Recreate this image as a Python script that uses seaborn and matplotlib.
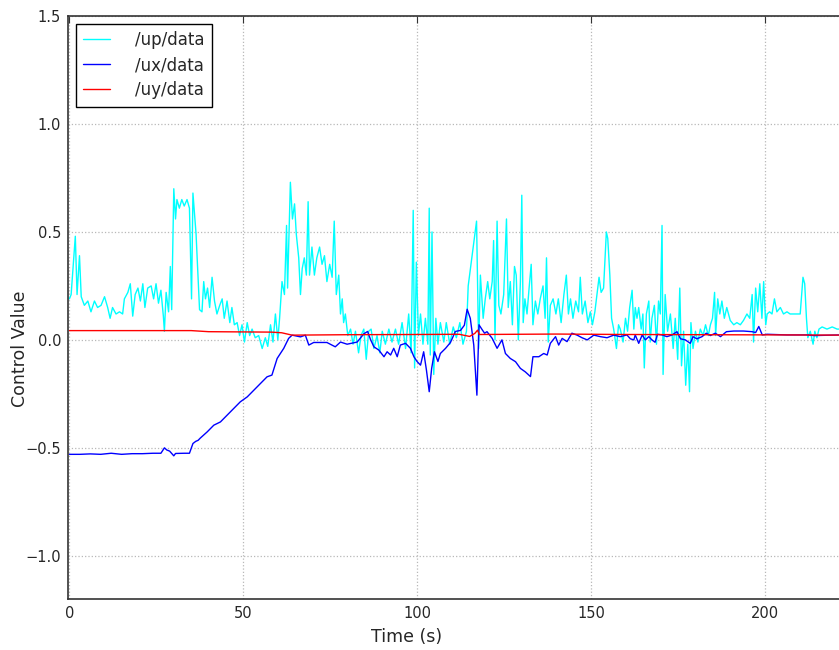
import numpy as np
import pandas as pd
import seaborn as sns
import matplotlib
matplotlib.use("Agg")
import matplotlib.pyplot as plt

# values (time in s, control value)
up_t = [0.0, 0.5, 1.7, 2.2, 2.9, 3.4, 4.3, 5.3, 6.2, 7.2, 8.1, 9.1, 10.1, 11.0, 11.7,
        12.4, 13.4, 14.4, 15.3, 15.8, 16.8, 17.5, 18.2, 18.9, 19.7, 20.4, 21.1, 21.7,
        22.5, 23.5, 24.2, 24.9, 25.6, 26.3, 27.0, 27.3, 27.8, 28.5, 29.0, 29.4, 30.0,
        30.5, 30.9, 31.6, 32.3, 33.0, 33.8, 34.5, 35.1, 35.5, 36.4, 37.4,
        38.1, 38.6, 39.1, 39.7, 40.3, 41.0, 41.7, 42.4, 43.2, 43.9, 44.5, 45.3, 46.1,
        46.7, 47.4, 48.2, 48.9, 49.6, 50.3, 51.1, 51.8, 52.5, 53.4, 54.4, 55.4, 56.3,
        57.0, 57.8, 58.5, 59.2, 59.9, 60.4, 61.1, 61.8, 62.4, 62.7, 63.5, 64.1, 64.7,
        65.2, 65.9, 66.4, 66.9, 67.5, 68.1, 68.6, 69.0, 69.7, 70.4, 71.1, 71.9, 72.6,
        73.3, 74.0, 74.8, 75.5, 76.1, 76.7, 77.4, 77.9,
        78.4, 78.8, 79.3, 80.0, 80.8, 81.5, 82.2, 83.1, 83.8, 84.6, 85.3, 86.0, 86.7,
        87.5, 88.4, 89.2, 89.9, 90.8, 91.8, 92.7, 93.7, 94.6, 95.6, 96.6, 97.5, 98.2,
        98.8, 99.2, 99.7, 100.3, 100.9, 101.6, 102.3, 103.0, 103.4, 103.7, 104.2, 104.7,
        105.3, 105.9, 106.6, 107.6, 108.3, 109.3, 110.3, 111.2, 112.2, 113.1, 114.1,
        114.6, 117.0, 117.6,
        118.1, 118.9, 119.5, 120.2, 120.8, 121.5, 121.9, 122.3, 122.9, 123.4, 124.0,
        124.8, 125.6, 126.1, 126.7, 127.3, 127.9, 128.4, 129.0, 129.6, 130.0, 130.4,
        130.9, 131.5, 132.1, 132.7, 133.2, 133.9, 134.6, 135.3, 136.1, 136.7, 137.1,
        137.6, 138.2, 139.0, 139.8, 140.5, 141.3, 142.1, 142.8, 143.4, 144.0, 144.7,
        145.5, 146.3, 146.8, 147.4, 148.2, 149.0, 149.7, 150.3, 151.0, 151.6, 152.2,
        152.8, 153.5, 154.3, 154.7, 155.3, 155.8, 156.4, 157.2, 157.8,
        158.3, 159.1, 159.8, 160.4, 161.0, 161.7, 162.2, 162.6, 163.1, 163.6, 164.3,
        164.8, 165.2, 165.8, 166.5, 166.9, 167.4, 168.1, 168.7, 169.3, 169.8, 170.3,
        170.6, 171.2, 171.9, 172.7, 173.5, 174.1, 174.8, 175.4, 175.9, 176.5, 177.1,
        177.7, 178.2, 178.6, 179.2, 179.9, 180.6, 181.3, 182.1, 182.8, 183.6, 184.2,
        184.8, 185.4, 185.7, 186.3, 186.9, 187.5, 188.2, 188.9, 189.9, 190.9, 191.8,
        192.8, 193.7, 194.7, 195.5, 196.2, 196.6, 197.2, 197.8, 198.4, 199.0, 199.5,
        200.1, 200.5, 201.2, 201.9, 202.6, 203.3, 204.3, 205.2, 206.2, 207.1, 208.1,
        209.0, 210.0, 210.8, 211.3, 211.8, 212.2, 212.9, 213.7, 214.2, 214.8, 215.4,
        216.3, 217.7, 219.2, 220.6, 223.0, 226.0]
up_v = [0.19, 0.21, 0.48, 0.21, 0.39, 0.20, 0.16, 0.18, 0.13, 0.18, 0.15, 0.16, 0.20, 0.15, 0.10,
        0.15, 0.12, 0.13, 0.12, 0.19, 0.22, 0.26, 0.11, 0.21, 0.24, 0.18, 0.26, 0.15,
        0.24, 0.25, 0.19, 0.26, 0.17, 0.23, 0.11, 0.04, 0.22, 0.13, 0.34, 0.14, 0.70,
        0.56, 0.65, 0.61, 0.65, 0.62, 0.65, 0.61, 0.19, 0.68, 0.49, 0.14,
        0.13, 0.27, 0.19, 0.24, 0.15, 0.29, 0.18, 0.12, 0.16, 0.19, 0.10, 0.18, 0.08,
        0.15, 0.07, 0.08, 0.02, 0.07, -0.01, 0.08, 0.02, 0.05, 0.01, 0.02, -0.04, 0.01,
        -0.03, 0.07, -0.01, 0.12, 0.00, 0.10, 0.27, 0.21, 0.53, 0.24, 0.73, 0.56, 0.63,
        0.49, 0.38, 0.21, 0.33, 0.38, 0.30, 0.64, 0.30, 0.43, 0.30, 0.38, 0.43, 0.35,
        0.39, 0.27, 0.35, 0.29, 0.55, 0.21, 0.30, 0.12,
        0.19, 0.08, 0.12, 0.02, 0.05, -0.02, 0.04, -0.06, 0.02, 0.05, -0.09, 0.04, 0.05,
        -0.04, 0.02, -0.06, 0.04, -0.02, 0.05, -0.01, 0.05, -0.02, 0.08, -0.04, 0.12, -0.06,
        0.60, -0.13, 0.36, 0.02, 0.12, -0.02, 0.10, -0.02, 0.61, -0.07, 0.50, -0.16,
        0.10, -0.02, 0.08, -0.01, 0.08, -0.02, 0.06, 0.01, 0.08, -0.02, 0.04,
        0.25, 0.55, -0.04,
        0.30, 0.10, 0.19, 0.27, 0.19, 0.27, 0.46, 0.00, 0.55, 0.16, 0.12,
        0.21, 0.56, 0.15, 0.27, 0.07, 0.34, 0.30, 0.00, 0.27, 0.67, 0.08,
        0.19, 0.12, 0.24, 0.35, 0.07, 0.18, 0.12, 0.19, 0.25, 0.10, 0.38,
        -0.01, 0.16, 0.19, 0.12, 0.19, 0.08, 0.21, 0.30, 0.12, 0.19, 0.10,
        0.18, 0.13, 0.29, 0.12, 0.18, 0.08, 0.13, 0.07, 0.13, 0.21, 0.29,
        0.22, 0.24, 0.50, 0.47, 0.30, 0.10, 0.05, -0.04, 0.07,
        0.05, -0.01, 0.10, 0.04, 0.15, 0.23, 0.05, 0.15, 0.10, 0.15, 0.05,
        0.12, -0.13, 0.12, 0.18, -0.01, 0.10, 0.16, -0.02, 0.18, 0.12, 0.53,
        -0.16, 0.21, 0.04, 0.12, -0.04, 0.10, -0.09, 0.24, -0.12, 0.04, -0.21,
        -0.02, -0.24, 0.08, -0.04, 0.04, -0.01, 0.05, 0.02, 0.07, 0.02, 0.07,
        0.10, 0.22, 0.02, 0.19, 0.12, 0.18, 0.10, 0.15, 0.09, 0.07, 0.08,
        0.07, 0.09, 0.12, 0.10, 0.21, -0.01, 0.24, 0.13, 0.26, 0.10, 0.27,
        0.07, 0.12, 0.13, 0.12, 0.19, 0.13, 0.15, 0.12, 0.13, 0.12, 0.12,
        0.12, 0.12, 0.29, 0.26, 0.10, 0.01, 0.04, -0.02, 0.04, 0.01, 0.05,
        0.06, 0.05, 0.06, 0.05, 0.05, 0.05]

ux_t = [0.0, 3.0, 6.0, 9.0, 12.0, 15.0, 18.0, 21.0, 24.0, 26.3, 27.3, 28.0, 28.8, 29.6,
        30.0, 30.5, 33.0, 34.5, 35.5, 36.3, 37.0, 37.6, 39.6, 41.5, 43.4, 45.3, 47.2,
        49.1, 51.1, 53.0, 54.9, 56.8, 58.2, 59.7, 61.6, 63.0, 64.0, 66.4, 67.8, 68.8,
        70.2, 74.0, 76.4, 77.9, 79.8, 82.7, 84.6, 85.7, 86.5, 87.5, 88.9, 90.4, 91.3,
        92.3, 93.2, 94.2, 95.1, 96.6, 98.0, 99.0, 99.9, 100.9, 101.8, 102.6, 103.4,
        104.1, 104.9, 105.9, 106.6, 108.1, 109.5, 110.9, 112.4, 113.5, 114.3, 115.2,
        116.2, 117.1, 117.7, 118.5, 119.3, 120.0, 121.5, 122.9, 124.3, 125.3, 126.7,
        128.2, 129.6, 131.0, 132.5, 133.2, 134.9, 136.3, 137.3, 138.2, 139.7, 140.6,
        141.6, 143.0, 144.4, 145.9, 147.3, 148.8, 150.7, 152.6, 154.5, 156.4, 158.3,
        160.2, 161.2, 162.2, 162.6, 163.6, 164.6, 165.5, 166.5, 167.4, 168.3, 169.0,
        170.3, 171.7, 173.2, 174.6, 175.6, 177.0, 178.4, 179.2, 180.3, 181.8, 183.0,
        184.2, 185.6, 187.1, 188.8, 190.9, 193.7, 196.2, 197.2, 198.1, 199.1, 200.5,
        206.2, 211.9, 214.0, 221.2, 226.0]
ux_v = [-0.53, -0.53, -0.528, -0.53, -0.525, -0.53, -0.527, -0.527, -0.525, -0.525,
        -0.50, -0.51, -0.515, -0.53, -0.537, -0.526, -0.525, -0.525, -0.48, -0.47, -0.465,
        -0.455, -0.426, -0.395, -0.38, -0.349, -0.318, -0.287, -0.264, -0.233, -0.202,
        -0.171, -0.163, -0.086, -0.039, 0.007, 0.022, 0.014, 0.022, -0.024, -0.012,
        -0.012, -0.032, -0.01, -0.02, -0.01, 0.028, 0.039, 0.003, -0.032, -0.047, -0.078,
        -0.055, -0.07, -0.039, -0.078, -0.024, -0.016, -0.039, -0.078, -0.10, -0.117,
        -0.055, -0.14, -0.24, -0.132, -0.055, -0.10, -0.063, -0.039, -0.012, 0.039,
        0.044, 0.068, 0.142, 0.10, -0.024, -0.256, 0.07, 0.05, 0.031, 0.038, 0.007,
        -0.039, 0.0, -0.063, -0.086, -0.101, -0.132, -0.148, -0.17, -0.078, -0.078,
        -0.063, -0.07, -0.016, 0.015, -0.024, 0.007, -0.008, 0.031, 0.022, 0.01, 0.0,
        0.022, 0.015, 0.01, 0.022, 0.015, 0.023, 0.005, 0.0, 0.023, -0.016, 0.023, 0.0,
        0.015, 0.0, -0.011, 0.026, 0.023, 0.015, 0.023, 0.038, 0.005, 0.0, -0.016,
        0.015, 0.005, 0.015, 0.031, 0.02, 0.031, 0.015, 0.038, 0.041, 0.041, 0.038,
        0.034, 0.062, 0.023, 0.026, 0.023, 0.023, 0.02, 0.023, 0.023]

uy_t = [0.0, 35.0, 40.0, 58.0, 61.0, 64.0, 80.0, 100.0, 112.0, 115.0, 116.5, 117.3,
        117.8, 140.0, 160.0, 226.0]
uy_v = [0.043, 0.043, 0.038, 0.036, 0.033, 0.022, 0.024, 0.025, 0.026, 0.016, 0.03,
        0.045, 0.025, 0.027, 0.025, 0.022]

x_ticks = [0, 50, 100, 150, 200]
y_ticks = [-1.0, -0.5, 0.0, 0.5, 1.0, 1.5]

sns.set_style("white")
plt.rcParams['font.family'] = ['DejaVu Sans']

fig = plt.figure(figsize=(8.39, 6.5), dpi=100)
# axes run past the right edge of the figure, as in the cropped reference
ax = fig.add_axes([68 / 839, 51 / 650, 250.4 * 3.48 / 839, 583 / 650])

sns.lineplot(x=up_t, y=up_v, color='cyan', lw=1.0, label='/up/data',
             sort=False, estimator=None, ax=ax)
sns.lineplot(x=ux_t, y=ux_v, color='#0000ff', lw=1.0, label='/ux/data',
             sort=False, estimator=None, ax=ax)
sns.lineplot(x=uy_t, y=uy_v, color='red', lw=1.0, label='/uy/data',
             sort=False, estimator=None, ax=ax)

ax.set_xlim(-0.4, 250)
ax.set_ylim(-1.2, 1.5)
ax.set_xticks(x_ticks)
ax.set_yticks(y_ticks)
ax.grid(True, ls=':', color='#b8b8b8', lw=0.9)
ax.tick_params(direction='in', top=True, right=True, labelsize=10.5, length=5,
               color='#333333', pad=5)
for s in ax.spines.values():
    s.set_color('#333333')
    s.set_linewidth(1.2)

ax.set_xlabel('Time (s)', fontsize=12.5)
ax.set_ylabel('Control Value', fontsize=12.5)
ax.xaxis.set_label_coords((406 - 68) / 871, -0.05)
ax.yaxis.set_label_coords((29 - 68) / 871, (599 - 349) / 583)

leg = ax.legend(loc='upper left', fancybox=False, edgecolor='black', framealpha=1,
                fontsize=12, handlelength=1.6, handletextpad=1.5,
                borderaxespad=0.45, borderpad=0.45, labelspacing=0.42)
leg.get_frame().set_linewidth(1.0)

fig.savefig('out.png', dpi=100)
